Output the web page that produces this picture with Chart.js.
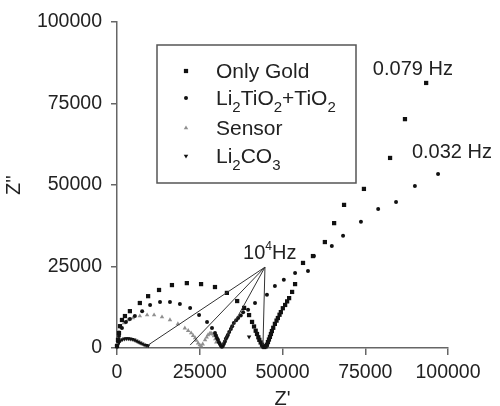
<!DOCTYPE html>
<html>
<head>
<meta charset="utf-8">
<script src="https://cdn.jsdelivr.net/npm/chart.js@4.4.0/dist/chart.umd.min.js"></script>
<style>
  html, body { margin: 0; padding: 0; background: #fff; }
</style>
</head>
<body>
<canvas id="nyquist" width="500" height="406"></canvas>
<script>
var goldRe = [0, 300, 600, 900, 1500, 2400, 3900, 6900, 9400, 12700, 16600, 21100, 25400, 29600, 33200, 36300, 38400, 39900, 40800, 41400, 41900, 42300, 42700, 43000, 43400, 43800, 44200, 44500, 44900, 45300, 45600, 45900, 46200, 46500, 46800, 47200, 47700, 48200, 48600, 49100, 49500, 50100, 50800, 51400, 52000, 52900, 53800, 56200, 59200, 62800, 65600, 68600, 74600, 82500, 87000, 93400];
var goldIm = [600, 2500, 4600, 6700, 8600, 9800, 11300, 13800, 15900, 17800, 19300, 19900, 19600, 18700, 16900, 14400, 12300, 10100, 8000, 6600, 5300, 4300, 3300, 2500, 1700, 1000, 500, 300, 500, 1000, 1800, 2600, 3400, 4300, 5200, 6200, 7400, 8400, 9200, 10200, 11000, 12200, 13200, 14300, 15300, 17200, 19600, 26100, 28200, 32500, 38300, 43900, 48800, 58300, 70200, 81300];

var titRe = [300, 600, 1500, 2700, 3900, 5400, 7600, 10000, 13000, 16000, 19000, 22100, 24800, 27200, 28700, 29600, 29900, 30200, 30500, 30800, 31100, 31400, 31700, 32000, 32300, 32600, 32900, 33200, 33500, 33900, 34400, 34800, 35300, 36000, 36600, 37400, 38100, 39600, 41700, 45300, 47700, 50400, 53800, 57700, 59500, 64900, 68300, 73700, 78900, 84300, 90000, 97000];
var titIm = [2000, 3700, 6100, 8000, 8900, 9800, 11300, 13200, 14100, 14100, 13500, 12300, 10100, 8000, 6100, 4600, 3800, 3100, 2500, 1800, 1200, 700, 400, 700, 1300, 2000, 2800, 3400, 4000, 4900, 5800, 6700, 7700, 8500, 9200, 10000, 11000, 11700, 13800, 16300, 19000, 20900, 23000, 23600, 28200, 31300, 34400, 38700, 42600, 44800, 49700, 53400];

var sensorRe = [0, 300, 600, 1200, 2100, 3300, 4800, 6900, 9100, 11200, 13600, 16000, 18400, 20500, 21500, 22400, 23000, 23600, 24000, 24500, 25000, 25400, 25900, 26600, 27100, 27500, 28000, 28400, 28900, 29300, 29700, 30000];
var sensorIm = [1200, 3100, 4900, 6400, 7700, 8600, 9200, 9800, 10100, 10100, 9500, 8600, 7400, 6100, 5300, 4600, 3800, 3100, 2300, 1500, 900, 600, 1200, 2500, 3300, 4000, 4400, 4600, 4200, 3700, 2800, 1800];

var carbRe = [0, 200, 400, 700, 1100, 1600, 2200, 2800, 3400, 4000, 4600, 5200, 5800, 6400, 7000, 7600, 8200, 8800, 9400, 39900];
var carbIm = [300, 900, 1400, 1900, 2300, 2600, 2800, 2900, 2900, 2800, 2700, 2500, 2200, 1900, 1600, 1300, 1000, 800, 700, 3400];

var seriesNames = ["Only Gold", "Li_2TiO_2+TiO_2", "Sensor", "Li_2CO_3"];
var xTicks = [0, 25000, 50000, 75000, 100000];
var yTicks = [0, 25000, 50000, 75000, 100000];

// frequency notes (data coords)
var hzNotes = [["0.079 Hz", 77300, 83700], ["0.032 Hz", 89100, 58300]];
var hfLabel = [38100, 27300];
var hfApex = [44700, 24800];
var hfEnds = [[9400, 900], [22100, 900], [31700, 900], [44100, 900]];

var FONT = '"Liberation Sans", Arial, sans-serif';

function pts(re, im) {
  return re.map(function(v, i) { return {x: v, y: im[i]}; });
}

// draws "Li_2CO_3" style labels with subscripts
function richText(ctx, label, x, y, size) {
  var parts = label.split(/(_\d)/);
  parts.forEach(function(p) {
    if (!p) return;
    if (p.charAt(0) == '_') {
      ctx.font = Math.round(size * 0.7) + 'px ' + FONT;
      ctx.fillText(p.charAt(1), x, y + 7);
      x += ctx.measureText(p.charAt(1)).width;
    } else {
      ctx.font = size + 'px ' + FONT;
      ctx.fillText(p, x, y);
      x += ctx.measureText(p).width;
    }
  });
}

function marker(ctx, ds, x, y) {
  var r = ds.pointRadius;
  ctx.fillStyle = ds.backgroundColor;
  ctx.beginPath();
  if (ds.pointStyle == 'rect') {
    var s = r * Math.SQRT1_2;
    ctx.rect(x - s, y - s, 2 * s, 2 * s);
  } else if (ds.pointStyle == 'triangle') {
    var rot = (ds.rotation || 0) * Math.PI / 180;
    for (var k = 0; k < 3; k++) {
      var a = rot + k * 2 * Math.PI / 3;
      var px = x + Math.sin(a) * r, py = y - Math.cos(a) * r;
      if (k == 0) ctx.moveTo(px, py); else ctx.lineTo(px, py);
    }
    ctx.closePath();
  } else {
    ctx.arc(x, y, r, 0, Math.PI * 2);
  }
  ctx.fill();
}

var annotate = {
  id: 'annotate',
  afterDatasetsDraw: function(chart) {
    var ctx = chart.ctx, xs = chart.scales.x, ys = chart.scales.y;
    ctx.save();
    // lines to the 10^4 Hz points
    ctx.strokeStyle = '#333';
    ctx.lineWidth = 1;
    var ax = xs.getPixelForValue(hfApex[0]), ay = ys.getPixelForValue(hfApex[1]);
    hfEnds.forEach(function(e) {
      ctx.beginPath();
      ctx.moveTo(ax, ay);
      ctx.lineTo(xs.getPixelForValue(e[0]), ys.getPixelForValue(e[1]));
      ctx.stroke();
    });
    ctx.fillStyle = '#222';
    ctx.textBaseline = 'alphabetic';
    ctx.textAlign = 'left';
    ctx.font = '20px ' + FONT;
    hzNotes.forEach(function(n) {
      ctx.fillText(n[0], xs.getPixelForValue(n[1]), ys.getPixelForValue(n[2]));
    });
    var lx = xs.getPixelForValue(hfLabel[0]), ly = ys.getPixelForValue(hfLabel[1]);
    ctx.fillText('10', lx, ly);
    lx += ctx.measureText('10').width;
    ctx.font = '12px ' + FONT;
    ctx.fillText('4', lx, ly - 9);
    lx += ctx.measureText('4').width;
    ctx.font = '20px ' + FONT;
    ctx.fillText('Hz', lx, ly);

    // legend box
    ctx.fillStyle = '#fff';
    ctx.fillRect(157, 45, 199, 138);
    ctx.strokeStyle = '#555';
    ctx.lineWidth = 1.5;
    ctx.strokeRect(157, 45, 199, 138);
    var rows = [71, 98, 128, 156];
    chart.data.datasets.forEach(function(ds, i) {
      marker(ctx, ds, 186, rows[i]);
      ctx.fillStyle = '#222';
      richText(ctx, seriesNames[i], 216, rows[i] + 7, 21);
    });
    ctx.restore();
  }
};

var tickFont = {family: FONT, size: 19.5};

new Chart(document.getElementById('nyquist'), {
  type: 'scatter',
  data: {
    datasets: [
      {label: seriesNames[0], data: pts(goldRe, goldIm), pointStyle: 'rect', pointRadius: 3, backgroundColor: '#111', borderWidth: 0, clip: false},
      {label: seriesNames[1], data: pts(titRe, titIm), pointStyle: 'circle', pointRadius: 2, backgroundColor: '#111', borderWidth: 0, clip: false},
      {label: seriesNames[2], data: pts(sensorRe, sensorIm), pointStyle: 'triangle', pointRadius: 2.6, backgroundColor: '#909090', borderWidth: 0, clip: false},
      {label: seriesNames[3], data: pts(carbRe, carbIm), pointStyle: 'triangle', rotation: 180, pointRadius: 2.6, backgroundColor: '#111', borderWidth: 0, clip: false}
    ]
  },
  options: {
    responsive: false,
    animation: false,
    devicePixelRatio: 1,
    layout: {padding: {top: 22, right: 52, left: 0, bottom: 0}},
    plugins: {legend: {display: false}, tooltip: {enabled: false}},
    scales: {
      x: {
        type: 'linear', min: 0, max: 100000,
        afterBuildTicks: function(s) { s.ticks = xTicks.map(function(v) { return {value: v}; }); },
        afterFit: function(s) { s.height = 58; },
        ticks: {font: tickFont, color: '#222', padding: 6, maxRotation: 0, callback: function(v) { return String(v); }},
        grid: {drawOnChartArea: false, drawTicks: true, tickLength: 7, color: '#666', lineWidth: 1.5},
        border: {color: '#666', width: 1.5},
        title: {display: true, text: "Z'", color: '#222', font: {family: FONT, size: 20, lineHeight: 1}, padding: {top: 0, bottom: -3}}
      },
      y: {
        type: 'linear', min: 0, max: 100000,
        afterBuildTicks: function(s) { s.ticks = yTicks.map(function(v) { return {value: v}; }); },
        afterFit: function(s) { s.width = 117; },
        ticks: {font: tickFont, color: '#222', padding: 9, callback: function(v) { return String(v); }},
        grid: {drawOnChartArea: false, drawTicks: true, tickLength: 6, color: '#666', lineWidth: 1.5},
        border: {color: '#666', width: 1.5},
        title: {display: true, text: "Z''", color: '#222', font: {family: FONT, size: 20, lineHeight: 1}, padding: {top: 4, bottom: 0}}
      }
    }
  },
  plugins: [annotate]
});
</script>
</body>
</html>
